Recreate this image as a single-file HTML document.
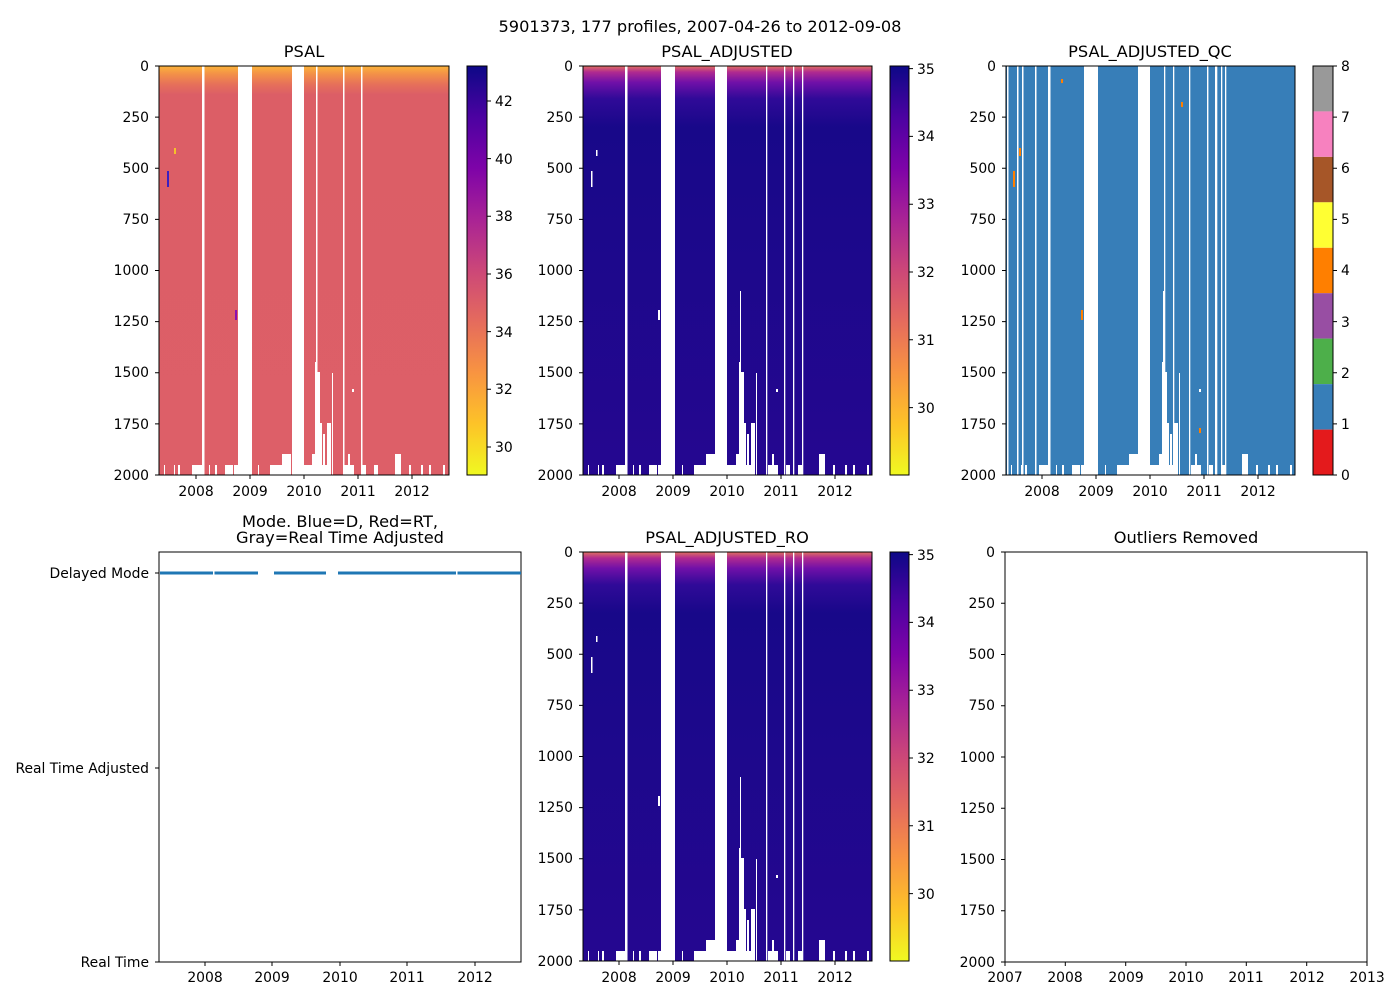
<!DOCTYPE html>
<html><head><meta charset="utf-8"><style>
html,body{margin:0;padding:0;background:#fff}
svg{display:block}
text{font-family:"DejaVu Sans","Liberation Sans",sans-serif;fill:#000}
.t{font-size:13.9px}
.h{font-size:16.2px}
</style></head><body>
<svg width="1400" height="1000" viewBox="0 0 1400 1000" xmlns="http://www.w3.org/2000/svg">
<defs>
<linearGradient id="gP" x1="0" y1="0" x2="0" y2="1">
<stop offset="0" stop-color="#fbb33a"/><stop offset="0.02" stop-color="#f39048"/><stop offset="0.045" stop-color="#e6705a"/><stop offset="0.07" stop-color="#dc5e66"/><stop offset="1" stop-color="#dd5f68"/>
</linearGradient>
<linearGradient id="gA" x1="0" y1="0" x2="0" y2="1">
<stop offset="0" stop-color="#e07060"/><stop offset="0.015" stop-color="#b02a90"/><stop offset="0.04" stop-color="#7010a8"/><stop offset="0.08" stop-color="#300a98"/><stop offset="0.15" stop-color="#180889"/><stop offset="1" stop-color="#250790"/>
</linearGradient>
<linearGradient id="gC" x1="0" y1="0" x2="0" y2="1">
<stop offset="0" stop-color="#0d0887"/><stop offset="0.125" stop-color="#4c02a1"/><stop offset="0.25" stop-color="#7e03a8"/><stop offset="0.375" stop-color="#a92395"/><stop offset="0.5" stop-color="#cc4778"/><stop offset="0.625" stop-color="#e56b5d"/><stop offset="0.75" stop-color="#f89441"/><stop offset="0.875" stop-color="#fdc328"/><stop offset="1" stop-color="#f0f921"/>
</linearGradient>
<g id="bot" fill="#fff">
<rect x="33" y="399" width="10" height="10"/><rect x="66" y="399" width="8" height="10"/><rect x="75" y="399" width="4" height="10"/>
<rect x="111" y="399" width="12" height="10"/><rect x="123" y="388" width="9" height="21"/><rect x="144" y="399" width="24" height="10"/>
<rect x="153" y="388" width="4" height="21"/><rect x="156" y="296" width="2" height="113"/><rect x="158" y="306" width="3" height="103"/>
<rect x="161" y="357" width="2" height="52"/><rect x="164" y="368" width="2" height="41"/><rect x="168" y="357" width="4" height="52"/>
<rect x="173" y="307" width="1" height="102"/><rect x="185" y="399" width="10" height="10"/><rect x="189" y="388" width="2" height="21"/>
<rect x="203" y="399" width="4" height="10"/><rect x="215" y="399" width="4" height="10"/><rect x="236" y="388" width="6" height="21"/>
<rect x="5" y="399" width="1" height="10"/><rect x="15" y="399" width="1" height="10"/><rect x="19" y="399" width="2" height="10"/>
<rect x="50" y="399" width="1" height="10"/><rect x="56" y="399" width="2" height="10"/><rect x="99" y="399" width="1" height="10"/>
<rect x="250" y="399" width="2" height="10"/><rect x="262" y="399" width="2" height="10"/><rect x="270" y="399" width="2" height="10"/><rect x="284" y="399" width="2" height="10"/>
<rect x="157" y="225" width="1" height="184"/><rect x="193" y="323" width="2" height="3"/>
</g>
<g id="gapsP" fill="#fff">
<rect x="43" y="0" width="2.5" height="409"/><rect x="79" y="0" width="14" height="409"/><rect x="133" y="0" width="12" height="409"/>
<rect x="157" y="0" width="1.5" height="409"/><rect x="184" y="0" width="1.5" height="409"/><rect x="202" y="0" width="1.5" height="409"/>
</g>
<g id="gapsA" fill="#fff">
<rect x="42" y="0" width="2.5" height="409"/><rect x="78" y="0" width="14" height="409"/><rect x="132" y="0" width="12" height="409"/>
<rect x="183" y="0" width="1.3" height="409"/><rect x="201" y="0" width="1.3" height="409"/><rect x="210" y="0" width="1.3" height="409"/><rect x="219" y="0" width="1.3" height="409"/>
</g>
</defs>

<text class="h" x="700" y="32" text-anchor="middle">5901373, 177 profiles, 2007-04-26 to 2012-09-08</text>

<text class="h" x="304" y="57" text-anchor="middle">PSAL</text>
<rect x="159" y="66" width="290" height="409" fill="url(#gP)"/>
<g transform="translate(159,66)"><use href="#gapsP"/><use href="#bot"/></g>
<rect x="174" y="148" width="2" height="6" fill="#f6c02a"/><rect x="167" y="171" width="2" height="16" fill="#3b1fc0"/><rect x="235" y="310" width="2" height="10" fill="#8a10b0"/>
<rect x="159" y="66" width="290" height="409" fill="none" stroke="#000" stroke-width="1"/>
<rect x="467" y="66" width="20" height="409" fill="url(#gC)" stroke="#000" stroke-width="1"/>

<text class="h" x="727" y="57" text-anchor="middle">PSAL_ADJUSTED</text>
<rect x="583" y="66" width="289" height="409" fill="url(#gA)"/>
<g transform="translate(583,66)"><use href="#gapsA"/><use href="#bot"/></g>
<rect x="596" y="150" width="1.5" height="6" fill="#fff"/><rect x="591" y="171" width="1.5" height="16" fill="#fff"/><rect x="658" y="310" width="2" height="10" fill="#fff"/>
<rect x="583" y="66" width="289" height="409" fill="none" stroke="#000"/>
<rect x="890" y="66" width="19" height="409" fill="url(#gC)" stroke="#000"/>

<text class="h" x="1150" y="57" text-anchor="middle">PSAL_ADJUSTED_QC</text>
<rect x="1006" y="66" width="289" height="409" fill="#377eb8"/>
<g transform="translate(1006,66)"><use href="#gapsA"/><use href="#bot"/></g>
<g fill="#fff">
<rect x="1007" y="66" width="1.5" height="409"/><rect x="1017" y="66" width="1.5" height="409"/><rect x="1022" y="66" width="1.5" height="409"/><rect x="1035" y="66" width="1.5" height="409"/>
<rect x="1164" y="66" width="1.3" height="409"/><rect x="1173" y="66" width="1.3" height="409"/><rect x="1207" y="66" width="1.3" height="409"/><rect x="1215" y="66" width="1.3" height="409"/><rect x="1221" y="66" width="1.3" height="409"/>
</g>
<rect x="1019" y="148" width="2" height="8" fill="#ff7f00"/><rect x="1013" y="171" width="2" height="16" fill="#ff7f00"/><rect x="1081" y="310" width="2" height="10" fill="#ff7f00"/><rect x="1181" y="102" width="2" height="5" fill="#ff7f00"/><rect x="1199" y="428" width="2" height="5" fill="#ff7f00"/><rect x="1061" y="79" width="2" height="4" fill="#ff7f00"/>
<rect x="1006" y="66" width="289" height="409" fill="none" stroke="#000"/>
<g>
<rect x="1313" y="66" width="20" height="45.44" fill="#999999"/>
<rect x="1313" y="111.4" width="20" height="45.44" fill="#f781bf"/>
<rect x="1313" y="156.9" width="20" height="45.44" fill="#a65628"/>
<rect x="1313" y="202.3" width="20" height="45.44" fill="#ffff33"/>
<rect x="1313" y="247.8" width="20" height="45.44" fill="#ff7f00"/>
<rect x="1313" y="293.2" width="20" height="45.44" fill="#984ea3"/>
<rect x="1313" y="338.6" width="20" height="45.44" fill="#4daf4a"/>
<rect x="1313" y="384.1" width="20" height="45.44" fill="#377eb8"/>
<rect x="1313" y="429.6" width="20" height="45.44" fill="#e41a1c"/>
<rect x="1313" y="66" width="20" height="409" fill="none" stroke="#000"/>
</g>

<text class="h" x="340" y="527" text-anchor="middle">Mode. Blue=D, Red=RT,</text>
<text class="h" x="340" y="543" text-anchor="middle">Gray=Real Time Adjusted</text>
<rect x="159" y="552" width="362" height="410" fill="#fff" stroke="#000"/>
<g stroke="#1f77b4" stroke-width="3">
<line x1="160" y1="573" x2="213" y2="573"/><line x1="214.5" y1="573" x2="258" y2="573"/><line x1="274" y1="573" x2="326" y2="573"/><line x1="338" y1="573" x2="456" y2="573"/><line x1="457.5" y1="573" x2="521" y2="573"/>
</g>

<text class="h" x="727" y="543" text-anchor="middle">PSAL_ADJUSTED_RO</text>
<rect x="583" y="552" width="289" height="409" fill="url(#gA)"/>
<g transform="translate(583,552)"><use href="#gapsA"/><use href="#bot"/></g>
<rect x="596" y="636" width="1.5" height="6" fill="#fff"/><rect x="591" y="657" width="1.5" height="16" fill="#fff"/><rect x="658" y="796" width="2" height="10" fill="#fff"/>
<rect x="583" y="552" width="289" height="409" fill="none" stroke="#000"/>
<rect x="890" y="552" width="19" height="409" fill="url(#gC)" stroke="#000"/>

<text class="h" x="1186" y="543" text-anchor="middle">Outliers Removed</text>
<rect x="1005" y="552" width="362" height="410" fill="#fff" stroke="#000"/>

<g stroke="#000" stroke-width="1">
<path d="M155 66h4M155 117.1h4M155 168.3h4M155 219.4h4M155 270.5h4M155 321.6h4M155 372.8h4M155 423.9h4M155 475h4"/>
<path d="M579 66h4M579 117.1h4M579 168.3h4M579 219.4h4M579 270.5h4M579 321.6h4M579 372.8h4M579 423.9h4M579 475h4"/>
<path d="M1002 66h4M1002 117.1h4M1002 168.3h4M1002 219.4h4M1002 270.5h4M1002 321.6h4M1002 372.8h4M1002 423.9h4M1002 475h4"/>
<path d="M579 552h4M579 603.1h4M579 654.3h4M579 705.4h4M579 756.5h4M579 807.6h4M579 858.8h4M579 909.9h4M579 961h4"/>
<path d="M1001 552h4M1001 603.2h4M1001 654.5h4M1001 705.7h4M1001 757h4M1001 808.2h4M1001 859.5h4M1001 910.7h4M1001 962h4"/>
<path d="M155 573h4M155 768h4M155 962h4"/>
<path d="M196 475v4M250 475v4M304 475v4M358 475v4M412 475v4"/>
<path d="M619 475v4M673 475v4M727 475v4M781 475v4M835 475v4"/>
<path d="M1042 475v4M1096 475v4M1150 475v4M1204 475v4M1258 475v4"/>
<path d="M205 962v4M272 962v4M340 962v4M407 962v4M475 962v4"/>
<path d="M619 961v4M673 961v4M727 961v4M781 961v4M835 961v4"/>
<path d="M1005 962v4M1065.3 962v4M1125.7 962v4M1186 962v4M1246.3 962v4M1306.7 962v4M1367 962v4"/>
<path d="M487 447h4M487 389.3h4M487 331.6h4M487 274h4M487 216.3h4M487 158.6h4M487 101h4"/>
<path d="M909 407.6h4M909 339.8h4M909 272h4M909 204.2h4M909 136.4h4M909 68.6h4"/>
<path d="M909 893.6h4M909 825.8h4M909 758h4M909 690.2h4M909 622.4h4M909 554.6h4"/>
<path d="M1333 475h4M1333 423.9h4M1333 372.8h4M1333 321.6h4M1333 270.5h4M1333 219.4h4M1333 168.3h4M1333 117.1h4M1333 66h4"/>
</g>
<g class="t" text-anchor="end">
<text x="149" y="71">0</text><text x="149" y="122">250</text><text x="149" y="173">500</text><text x="149" y="224">750</text><text x="149" y="275">1000</text><text x="149" y="326">1250</text><text x="149" y="377">1500</text><text x="149" y="429">1750</text><text x="149" y="480">2000</text>
<text x="573" y="71">0</text><text x="573" y="122">250</text><text x="573" y="173">500</text><text x="573" y="224">750</text><text x="573" y="275">1000</text><text x="573" y="326">1250</text><text x="573" y="377">1500</text><text x="573" y="429">1750</text><text x="573" y="480">2000</text>
<text x="996" y="71">0</text><text x="996" y="122">250</text><text x="996" y="173">500</text><text x="996" y="224">750</text><text x="996" y="275">1000</text><text x="996" y="326">1250</text><text x="996" y="377">1500</text><text x="996" y="429">1750</text><text x="996" y="480">2000</text>
<text x="573" y="557">0</text><text x="573" y="608">250</text><text x="573" y="659">500</text><text x="573" y="710">750</text><text x="573" y="761">1000</text><text x="573" y="812">1250</text><text x="573" y="863">1500</text><text x="573" y="915">1750</text><text x="573" y="966">2000</text>
<text x="995" y="557">0</text><text x="995" y="608">250</text><text x="995" y="659">500</text><text x="995" y="710">750</text><text x="995" y="762">1000</text><text x="995" y="813">1250</text><text x="995" y="864">1500</text><text x="995" y="915">1750</text><text x="995" y="967">2000</text>
<text x="149" y="578">Delayed Mode</text><text x="149" y="773">Real Time Adjusted</text><text x="149" y="967">Real Time</text>
</g>
<g class="t" text-anchor="middle">
<text x="196" y="496">2008</text><text x="250" y="496">2009</text><text x="304" y="496">2010</text><text x="358" y="496">2011</text><text x="412" y="496">2012</text>
<text x="619" y="496">2008</text><text x="673" y="496">2009</text><text x="727" y="496">2010</text><text x="781" y="496">2011</text><text x="835" y="496">2012</text>
<text x="1042" y="496">2008</text><text x="1096" y="496">2009</text><text x="1150" y="496">2010</text><text x="1204" y="496">2011</text><text x="1258" y="496">2012</text>
<text x="205" y="982">2008</text><text x="272" y="982">2009</text><text x="340" y="982">2010</text><text x="407" y="982">2011</text><text x="475" y="982">2012</text>
<text x="619" y="982">2008</text><text x="673" y="982">2009</text><text x="727" y="982">2010</text><text x="781" y="982">2011</text><text x="835" y="982">2012</text>
<text x="1005" y="982">2007</text><text x="1065" y="982">2008</text><text x="1126" y="982">2009</text><text x="1186" y="982">2010</text><text x="1246" y="982">2011</text><text x="1307" y="982">2012</text><text x="1367" y="982">2013</text>
</g>
<g class="t">
<text x="495" y="452">30</text><text x="495" y="394">32</text><text x="495" y="337">34</text><text x="495" y="279">36</text><text x="495" y="221">38</text><text x="495" y="164">40</text><text x="495" y="106">42</text>
<text x="917" y="413">30</text><text x="917" y="345">31</text><text x="917" y="277">32</text><text x="917" y="209">33</text><text x="917" y="141">34</text><text x="917" y="74">35</text>
<text x="917" y="899">30</text><text x="917" y="831">31</text><text x="917" y="763">32</text><text x="917" y="695">33</text><text x="917" y="627">34</text><text x="917" y="560">35</text>
<text x="1341" y="480">0</text><text x="1341" y="429">1</text><text x="1341" y="378">2</text><text x="1341" y="327">3</text><text x="1341" y="275">4</text><text x="1341" y="224">5</text><text x="1341" y="173">6</text><text x="1341" y="122">7</text><text x="1341" y="71">8</text>
</g>
</svg>
</body></html>
